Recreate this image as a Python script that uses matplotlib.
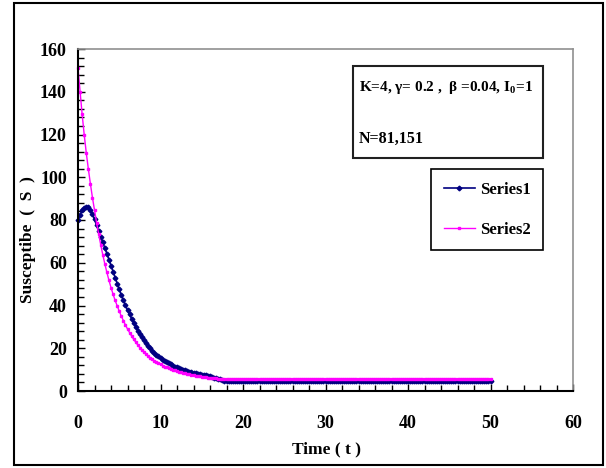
import numpy as np
import matplotlib
matplotlib.use("Agg")
import matplotlib.pyplot as plt
from matplotlib.patches import Rectangle
from matplotlib.ticker import MultipleLocator

plt.rcParams['font.family'] = ['Liberation Serif', 'DejaVu Serif']
plt.rcParams['font.weight'] = 'bold'
plt.rcParams['mathtext.fontset'] = 'custom'
plt.rcParams['mathtext.rm'] = 'Liberation Serif:bold'
plt.rcParams['mathtext.it'] = 'Liberation Serif:bold'
plt.rcParams['mathtext.bf'] = 'Liberation Serif:bold'

# time grid, step 0.25 from 0 to 50
time = np.arange(0, 50.01, 0.25)

series1 = [
    80.0, 82.5, 84.5, 85.8, 86.3, 86.0, 84.8, 82.8, 80.3, 77.5,
    74.8, 72.2, 69.6, 67.0, 64.3, 61.5, 58.7, 55.8, 53.0, 50.2,
    47.5, 44.9, 42.5, 40.1, 37.9, 35.8, 33.8, 31.9, 30.0, 28.3,
    26.7, 25.2, 23.8, 22.5, 21.2, 20.0, 18.9, 17.9, 17.0, 16.2,
    15.4, 14.7, 14.0, 13.4, 12.9, 12.4, 11.9, 11.4, 11.0, 10.6,
    10.2, 9.9, 9.6, 9.3, 9.0, 8.8, 8.5, 8.3, 8.1, 7.9,
    7.7, 7.5, 7.3, 7.1, 6.9, 6.6, 6.3, 6.0, 5.7, 5.4,
    5.1, 4.9, 4.8,
    4.8, 4.8, 4.8, 4.8, 4.8, 4.8, 4.8, 4.8, 4.8, 4.8, 4.8, 4.8, 4.8, 4.8, 4.8, 4.8,
    4.8, 4.8, 4.8, 4.8, 4.8, 4.8, 4.8, 4.8, 4.8, 4.8, 4.8, 4.8, 4.8, 4.8, 4.8, 4.8,
    4.8, 4.8, 4.8, 4.8, 4.8, 4.8, 4.8, 4.8, 4.8, 4.8, 4.8, 4.8, 4.8, 4.8, 4.8, 4.8,
    4.8, 4.8, 4.8, 4.8, 4.8, 4.8, 4.8, 4.8, 4.8, 4.8, 4.8, 4.8, 4.8, 4.8, 4.8, 4.8,
    4.8, 4.8, 4.8, 4.8, 4.8, 4.8, 4.8, 4.8, 4.8, 4.8, 4.8, 4.8, 4.8, 4.8, 4.8, 4.8,
    4.8, 4.8, 4.8, 4.8, 4.8, 4.8, 4.8, 4.8, 4.8, 4.8, 4.8, 4.8, 4.8, 4.8, 4.8, 4.8,
    4.8, 4.8, 4.8, 4.8, 4.8, 4.8, 4.8, 4.8, 4.8, 4.8, 4.8, 4.8, 4.8, 4.8, 4.8, 4.8,
    4.8, 4.8, 4.8, 4.8, 4.8, 4.8, 4.8, 4.8, 4.8, 4.8, 4.8, 4.8, 4.8, 4.8, 4.8, 4.8,
]

series2 = [
    151.0, 140.0, 129.5, 120.0, 111.5, 104.0, 97.0, 90.5, 84.5, 78.8,
    73.5, 68.5, 63.8, 59.5, 55.5, 51.8, 48.4, 45.3, 42.4, 39.8,
    37.3, 35.0, 32.9, 30.9, 29.0, 27.3, 25.7, 24.2, 22.8, 21.5,
    20.3, 19.2, 18.2, 17.2, 16.3, 15.5, 14.8, 14.1, 13.5, 12.9,
    12.4, 11.9, 11.4, 11.0, 10.6, 10.2, 9.9, 9.6, 9.3, 9.0,
    8.7, 8.5, 8.2, 8.0, 7.8, 7.6, 7.4, 7.2, 7.0, 6.9,
    6.7, 6.6, 6.4, 6.3, 6.2, 6.1, 6.0, 5.9, 5.8, 5.7,
    5.6, 5.5, 5.5,
    5.4, 5.4, 5.4, 5.4, 5.4, 5.4, 5.4, 5.4, 5.4, 5.4, 5.4, 5.4, 5.4, 5.4, 5.4, 5.4,
    5.4, 5.4, 5.4, 5.4, 5.4, 5.4, 5.4, 5.4, 5.4, 5.4, 5.4, 5.4, 5.4, 5.4, 5.4, 5.4,
    5.4, 5.4, 5.4, 5.4, 5.4, 5.4, 5.4, 5.4, 5.4, 5.4, 5.4, 5.4, 5.4, 5.4, 5.4, 5.4,
    5.4, 5.4, 5.4, 5.4, 5.4, 5.4, 5.4, 5.4, 5.4, 5.4, 5.4, 5.4, 5.4, 5.4, 5.4, 5.4,
    5.4, 5.4, 5.4, 5.4, 5.4, 5.4, 5.4, 5.4, 5.4, 5.4, 5.4, 5.4, 5.4, 5.4, 5.4, 5.4,
    5.4, 5.4, 5.4, 5.4, 5.4, 5.4, 5.4, 5.4, 5.4, 5.4, 5.4, 5.4, 5.4, 5.4, 5.4, 5.4,
    5.4, 5.4, 5.4, 5.4, 5.4, 5.4, 5.4, 5.4, 5.4, 5.4, 5.4, 5.4, 5.4, 5.4, 5.4, 5.4,
    5.4, 5.4, 5.4, 5.4, 5.4, 5.4, 5.4, 5.4, 5.4, 5.4, 5.4, 5.4, 5.4, 5.4, 5.4, 5.4,
]

series_names = ["Series1", "Series2"]
params_line = r"K=4, γ= 0.2 ,  β =0.04, $\mathrm{I}_0$=1"
n_line = "N=81,151"

W, H = 606, 468
fig = plt.figure(figsize=(W / 100, H / 100), dpi=100)

def fx(px):
    return px / W

def fy(py):
    return 1 - py / H

ax = fig.add_axes([fx(78), fy(391), fx(573) - fx(78), fy(49) - fy(391)])

ax.plot(time, series1, color='#000080', lw=1.2, marker='D', ms=2.4,
        mec='#000080', label=series_names[0], clip_on=False)
ax.plot(time, series2, color='#FF00FF', lw=1.0, marker='s', ms=2.0,
        mec='#FF00FF', label=series_names[1], clip_on=False)

ax.set_xlim(0, 60)
ax.set_ylim(0, 160)
ax.xaxis.set_major_locator(MultipleLocator(10))
ax.xaxis.set_minor_locator(MultipleLocator(2))
ax.yaxis.set_major_locator(MultipleLocator(20))
ax.yaxis.set_minor_locator(MultipleLocator(4))
ax.tick_params(which='both', direction='in', width=1.0, color='black')
ax.tick_params(which='major', length=5)
ax.tick_params(which='minor', length=4)
ax.tick_params(axis='x', which='major', pad=17, labelsize=13)
ax.tick_params(axis='y', which='major', pad=8, labelsize=13)

for side in ['left', 'bottom']:
    ax.spines[side].set_linewidth(1.5)
    ax.spines[side].set_color('black')
for side in ['top', 'right']:
    ax.spines[side].set_linewidth(1.2)
    ax.spines[side].set_color('#909090')

fig.text(fx(327), fy(449), "Time ( t )", ha='center', va='center',
         fontsize=12.5, fontweight='bold')
fig.text(fx(28), fy(240), "Susceptibe  (  S  )", ha='center', va='center',
         rotation=90, fontsize=12.5, fontweight='bold')

# parameter box
fig.patches.append(Rectangle((fx(353), fy(157.5)), fx(543) - fx(353), fy(66.5) - fy(157.5),
                             transform=fig.transFigure, fill=False,
                             edgecolor='#202020', lw=1.5))
fig.text(fx(359), fy(88), params_line, ha='left', va='center',
         fontsize=11, fontweight='bold')
fig.text(fx(359), fy(139), n_line, ha='left', va='center',
         fontsize=11.5, fontweight='bold')

leg = ax.legend(loc='upper left', bbox_to_anchor=(fx(431), fy(169)),
                bbox_transform=fig.transFigure, borderaxespad=0,
                frameon=True, fancybox=False, framealpha=1, edgecolor='black',
                prop={'size': 12, 'weight': 'bold'}, handlelength=1.9,
                handletextpad=0.3, labelspacing=1.45, borderpad=0.75, numpoints=1)
leg.get_frame().set_linewidth(1.2)

# outer chart border
fig.patches.append(Rectangle((fx(14), fy(465)), fx(603) - fx(14), fy(3) - fy(465),
                             transform=fig.transFigure, fill=False,
                             edgecolor='black', lw=1.5))

fig.savefig("out.png", dpi=100)
